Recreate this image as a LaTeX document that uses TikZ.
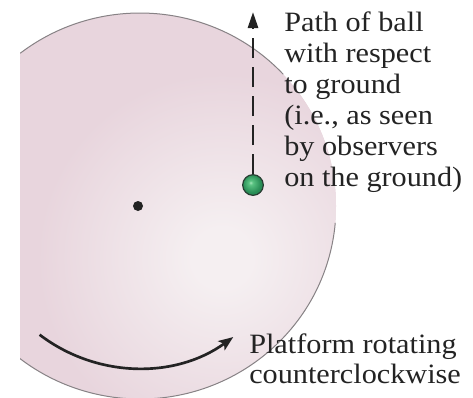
\documentclass[tikz,border=0pt]{standalone}
\usepackage{fontspec}
\setmainfont{Liberation Serif}[FakeStretch=1.08]
\usetikzlibrary{arrows.meta}
\definecolor{diskpink}{RGB}{232,213,221}
\definecolor{disklight}{RGB}{245,239,241}
\definecolor{diskedge}{RGB}{135,130,133}
\definecolor{inkc}{RGB}{35,35,35}
\definecolor{ballhi}{RGB}{165,230,185}
\definecolor{ballmid}{RGB}{90,195,130}
\definecolor{balldark}{RGB}{40,140,85}
\definecolor{balledge}{RGB}{40,60,50}
\pgfdeclareradialshading{disksh}{\pgfpoint{0bp}{0bp}}{color(0bp)=(disklight); color(4bp)=(disklight); color(25bp)=(diskpink); color(50bp)=(diskpink)}
\pgfdeclareradialshading{ballsh}{\pgfpoint{-6bp}{6bp}}{color(0bp)=(ballhi); color(5bp)=(ballmid); color(22bp)=(balldark); color(50bp)=(balldark)}
\begin{document}
\begin{tikzpicture}[x=0.75pt,y=-0.75pt,
  lbl/.style={text=inkc, inner sep=0pt, align=left, font=\fontsize{21}{23.3}\selectfont},
  lbltwo/.style={text=inkc, inner sep=0pt, align=left, font=\fontsize{21}{22.5}\selectfont},
  rim/.style={draw=diskedge, line width=0.75pt},
  pivotdot/.style={circle, fill=inkc, inner sep=0pt, minimum size=7.5pt},
  ballnode/.style={circle, draw=balledge, line width=0.9pt, shade, shading=ballsh, inner sep=0pt, minimum size=15.5pt},
  dasharrow/.style={draw=inkc, line width=2pt, dash pattern=on 15pt off 6.75pt, -{Triangle[length=12pt,width=7.5pt]}},
  rotarrow/.style={draw=inkc, line width=2pt, -{Stealth[length=11pt,width=8.5pt,inset=2.5pt]}}]
\useasboundingbox (0,0) rectangle (473,397);
\coordinate (c) at (140,206);
\begin{scope}
  \clip (20,0) rectangle (473,397);
  \fill[diskpink] (c) ellipse [x radius=196, y radius=193];
  \begin{scope}
    \clip (c) ellipse [x radius=196, y radius=193];
    \shade[shading=disksh] (222,258) circle (185);
  \end{scope}
  \draw[rim] ([shift={(-127.7:196 and 193)}]c) arc[start angle=-127.7, end angle=-43, x radius=196, y radius=193];
  \draw[rim] ([shift={(5:196 and 193)}]c) arc[start angle=5, end angle=130, x radius=196, y radius=193];
\end{scope}
\node[pivotdot] (pivot) at (138,206) {};
\node[ballnode] (ball) at (253,185) {};
\coordinate (tipc) at (253,12);
\draw[dasharrow] (ball.north) -- (tipc);
\coordinate (rs) at ([shift={(127.4:162)}]pivot);
\draw[rotarrow] (rs) arc[start angle=127.4, end angle=54, radius=162];
\node[lbl, anchor=base west] (pathlbl) at (284,186.5) {Path of ball\\with respect\\to ground\\(i.e., as seen\\by observers\\on the ground)};
\node[lbltwo, anchor=base west] (platlbl) at (249,383.3) {Platform rotating\\counterclockwise};
\end{tikzpicture}
\end{document}
